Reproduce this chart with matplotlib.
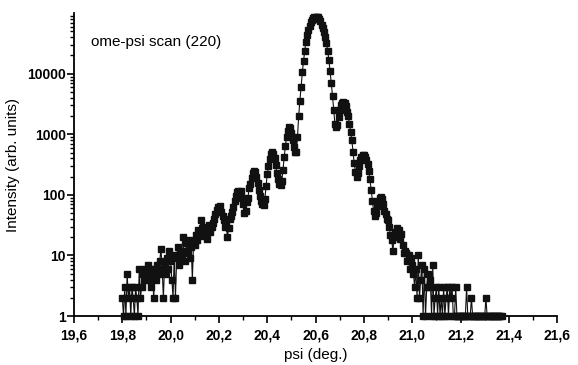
import numpy as np
import matplotlib
matplotlib.use("Agg")
import matplotlib.pyplot as plt
from matplotlib.ticker import FixedLocator, FuncFormatter, LogLocator, NullFormatter

# scan grid (psi, deg): 19.800 ... 21.370 in 0.005 steps
psi_start = 19.800
psi_step = 0.005

# intensity (counts), one row per 0.1 deg
intensity = [
    2, 1, 3, 1, 5, 2, 3, 1, 3, 2, 1, 3, 2, 1, 6, 2, 3, 5, 4, 6,                    # 19.80
    5, 7, 4, 6, 3, 5, 2, 6, 4, 7, 5, 8, 13, 6, 2, 7, 5, 9, 6, 12,                  # 19.90
    8, 4, 2, 10, 2, 9, 14, 7, 11, 9, 20, 12, 8, 16, 11, 18, 9, 14, 4, 17,          # 20.00
    15, 22, 18, 26, 21, 39, 28, 22, 30, 25, 19, 27, 32, 24, 29, 35, 40, 48, 57, 62,  # 20.10
    58, 66, 52, 45, 38, 30, 34, 20, 28, 40, 45, 52, 64, 78, 95, 110, 118, 112, 118, 90,  # 20.20
    70, 50, 55, 75, 90, 130, 150, 190, 230, 250, 240, 200, 160, 120, 95, 80, 70, 67, 85, 140,  # 20.30
    220, 300, 390, 470, 505, 480, 400, 310, 230, 180, 150, 143, 170, 260, 420, 650, 900, 1150, 1300, 1250,  # 20.40
    1050, 800, 620, 520, 510, 900, 2000, 3600, 6000, 10500, 16000, 24000, 33000, 43000, 53000, 62000, 71000, 78000, 83000, 86000,  # 20.50
    87000, 87500, 85000, 80000, 73000, 64000, 56000, 48000, 40000, 32000, 24000, 17000, 11000, 7000, 4300, 2500, 1500, 1300, 1450, 1900,  # 20.60
    2500, 3000, 3300, 3400, 3300, 2900, 2300, 2000, 1500, 1100, 800, 520, 330, 240, 200, 230, 300, 380, 430, 455,  # 20.70
    450, 430, 380, 320, 250, 180, 120, 80, 55, 45, 50, 65, 80, 90, 92, 85, 70, 55, 48, 40,  # 20.80
    38, 30, 22, 18, 12, 20, 24, 28, 22, 26, 19, 23, 15, 11, 12, 11, 8, 10, 6, 9,    # 20.90
    7, 5, 3, 6, 2, 10, 2, 4, 7, 1, 6, 1, 3, 5, 3, 4, 1, 7, 1, 2,                   # 21.00
    3, 1, 3, 1, 2, 1, 3, 1, 2, 3, 1, 3, 2, 3, 1, 1, 3, 1, 1, 1,                    # 21.10
    1, 1, 1, 1, 1, 3, 1, 1, 1, 2, 1, 1, 1, 1, 1, 1, 1, 1, 1, 1,                    # 21.20
    1, 2, 1, 1, 1, 1, 1, 1, 1, 1, 1, 1, 1, 1, 1,                                   # 21.30
]

psi = np.round(psi_start + psi_step * np.arange(len(intensity)), 3)

x_ticks = [19.6, 19.8, 20.0, 20.2, 20.4, 20.6, 20.8, 21.0, 21.2, 21.4, 21.6]
y_ticks = [1, 10, 100, 1000, 10000]
y_tick_labels = ["1", "10", "100", "1000", "10000"]

plt.rcParams["font.family"] = ["Liberation Sans", "DejaVu Sans"]

fig = plt.figure(figsize=(5.78, 3.65), dpi=100)
ax = fig.add_axes([0.128, 0.134, 0.836, 0.830])

ax.plot(psi, intensity, color="#111111", lw=0.8, marker="s", ms=5.0,
        mec="#111111", mfc="#111111", zorder=3, clip_on=False)

ax.set_yscale("log")
ax.set_xlim(19.6, 21.6)
ax.set_ylim(1, 1.0e5)

ax.xaxis.set_major_locator(FixedLocator(x_ticks))
ax.xaxis.set_minor_locator(FixedLocator([v + 0.1 for v in x_ticks[:-1]]))
ax.xaxis.set_major_formatter(FuncFormatter(lambda v, p: f"{v:.1f}".replace(".", ",")))

ax.yaxis.set_major_locator(FixedLocator(y_ticks))
ax.yaxis.set_major_formatter(FuncFormatter(lambda v, p: y_tick_labels[y_ticks.index(int(round(v)))] if int(round(v)) in y_ticks else ""))
ax.yaxis.set_minor_locator(LogLocator(base=10, subs=np.arange(2, 10), numticks=20))
ax.yaxis.set_minor_formatter(NullFormatter())

for s in ["top", "right"]:
    ax.spines[s].set_visible(False)
for s in ["left", "bottom"]:
    ax.spines[s].set_linewidth(1.3)
    ax.spines[s].set_color("black")

ax.tick_params(axis="both", which="major", direction="out", length=5, width=1.2, colors="black")
ax.tick_params(axis="both", which="minor", direction="out", length=3, width=1.0, colors="black")
ax.tick_params(axis="y", which="major", pad=1)
ax.tick_params(axis="x", which="major", pad=4)
for lab in ax.get_xticklabels() + ax.get_yticklabels():
    lab.set_fontsize(10)
    lab.set_fontweight("bold")

ax.set_xlabel("psi (deg.)", fontsize=11, labelpad=4)
ax.set_ylabel("Intensity (arb. units)", fontsize=11, labelpad=5)

ax.text(0.035, 0.905, "ome-psi scan (220)", transform=ax.transAxes, fontsize=11,
        ha="left", va="center")

fig.savefig("out.png", dpi=100)
